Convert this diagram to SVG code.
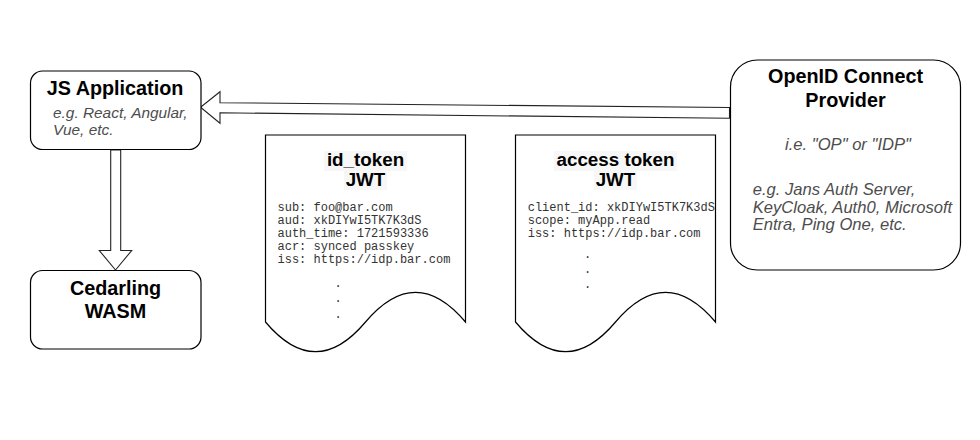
<svg xmlns="http://www.w3.org/2000/svg" width="980" height="440" viewBox="0 0 980 440">
<style>
.box{fill:#ffffff;stroke:#000000;stroke-width:1.2}
.arrow{fill:#ffffff;stroke:#222222;stroke-width:1.1;stroke-linejoin:miter}
.t{font-family:"Liberation Sans",Arial,Helvetica,sans-serif;font-weight:bold;font-size:19.8px;fill:#000000;text-anchor:middle}
.tt{font-family:"Liberation Sans",Arial,Helvetica,sans-serif;font-weight:bold;font-size:18.8px;fill:#000000;text-anchor:middle}
.i{font-family:"Liberation Sans",Arial,Helvetica,sans-serif;font-style:italic;font-size:15.4px;fill:#4d4d4d}
.i2{font-family:"Liberation Sans",Arial,Helvetica,sans-serif;font-style:italic;font-size:16.6px;fill:#4d4d4d}
.m{font-family:"Liberation Mono","Courier New",monospace;font-size:12px;fill:#333333}
.dot{font-family:"Liberation Mono","Courier New",monospace;font-size:12px;fill:#333333;text-anchor:middle}
.lbg{fill:#f7f7f7}
</style>
<rect width="980" height="440" fill="#ffffff"/>
<g id="connectors">
<polygon class="arrow" points="729.5,107.5 220,102.7 220,91.7 200.5,107.3 220,123.3 220,112.8 729.5,118.3"/>
<polygon class="arrow" points="110.7,150 120.7,150 120.7,250.5 131.7,250.5 115.5,270 99.3,250.5 110.7,250.5"/>
</g>
<g id="js-app">
<rect class="box" x="30.5" y="71" width="170.5" height="78.5" rx="12" ry="12"/>
<text class="t" x="115" y="95">JS Application</text>
<text class="i" x="53" y="118.3">e.g. React, Angular,</text>
<text class="i" x="53" y="135">Vue, etc.</text>
</g>
<g id="cedarling">
<rect class="box" x="30.5" y="270.5" width="170.5" height="78.5" rx="12" ry="12"/>
<text class="t" x="115.5" y="295">Cedarling</text>
<text class="t" x="115.5" y="318">WASM</text>
</g>
<g id="id-token">
<path class="box" d="M265.5,135 H465.5 V322 Q415.5,262.6 365.5,322 Q315.5,381.4 265.5,322 Z"/>
<rect class="lbg" x="324" y="151" width="83" height="20"/>
<rect class="lbg" x="344" y="171" width="43" height="19"/>
<text class="tt" x="365.5" y="166">id_token</text>
<text class="tt" x="365.5" y="186">JWT</text>
<text class="m" x="277.5" y="210.7">sub: foo@bar.com</text>
<text class="m" x="277.5" y="223.7">aud: xkDIYwI5TK7K3dS</text>
<text class="m" x="277.5" y="236.7">auth_time: 1721593336</text>
<text class="m" x="277.5" y="249.7">acr: synced passkey</text>
<text class="m" x="277.5" y="262.7">iss: https://idp.bar.com</text>
<text class="dot" x="338" y="286.5">.</text>
<text class="dot" x="338" y="302">.</text>
<text class="dot" x="338" y="318">.</text>
</g>
<g id="access-token">
<path class="box" d="M515.5,135 H715.5 V322 Q665.5,262.6 615.5,322 Q565.5,381.4 515.5,322 Z"/>
<rect class="lbg" x="554" y="151" width="123" height="20"/>
<rect class="lbg" x="594" y="171" width="43" height="19"/>
<text class="tt" x="615.5" y="166">access token</text>
<text class="tt" x="615.5" y="186">JWT</text>
<text class="m" x="527.7" y="210.7">client_id: xkDIYwI5TK7K3dS</text>
<text class="m" x="527.7" y="223.7">scope: myApp.read</text>
<text class="m" x="527.7" y="236.7">iss: https://idp.bar.com</text>
<text class="dot" x="587.7" y="257.5">.</text>
<text class="dot" x="587.7" y="273">.</text>
<text class="dot" x="587.7" y="287.5">.</text>
</g>
<g id="op">
<rect class="box" x="730.5" y="60" width="230" height="210" rx="27" ry="27"/>
<text class="t" x="845.5" y="83.3">OpenID Connect</text>
<text class="t" x="845.5" y="107.3">Provider</text>
<text class="i2" x="848" y="150" text-anchor="middle">i.e. "OP" or "IDP"</text>
<text class="i2" x="752.7" y="195">e.g. Jans Auth Server,</text>
<text class="i2" x="752.7" y="212.7">KeyCloak, Auth0, Microsoft</text>
<text class="i2" x="752.7" y="230">Entra, Ping One, etc.</text>
</g>
</svg>
